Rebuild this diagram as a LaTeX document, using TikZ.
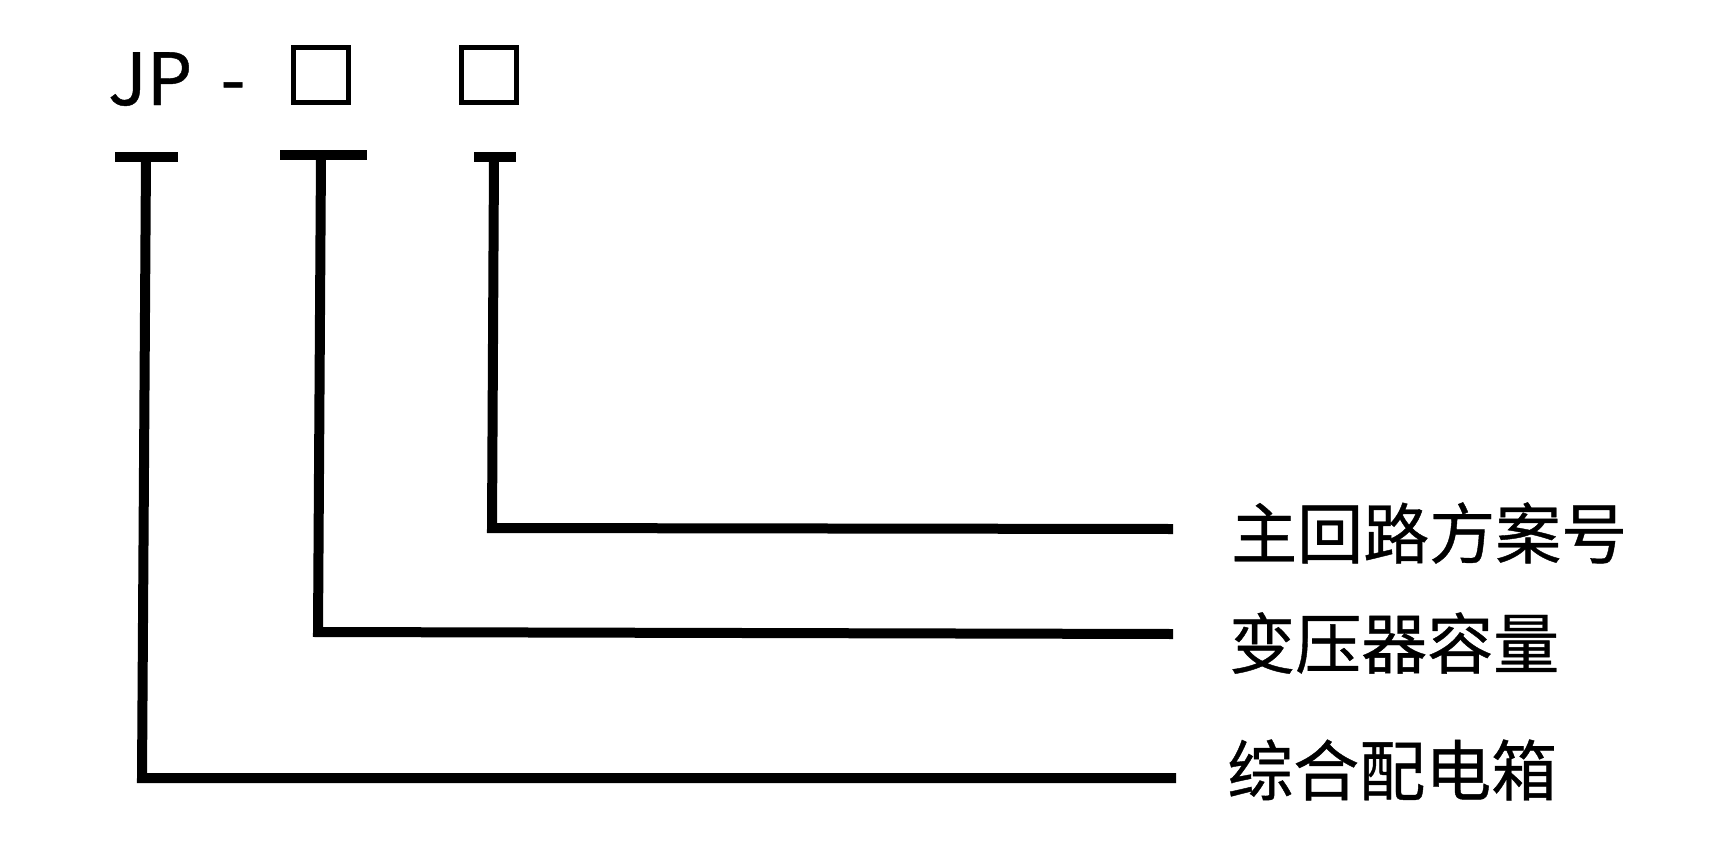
\documentclass[tikz,border=0pt]{standalone}
\usepackage{fontspec}
\newfontfamily\cjkfont[FakeBold=0.6]{Noto Sans CJK SC}
\begin{document}
\begin{tikzpicture}[x=1pt,y=-1pt,
  lab/.style={font=\cjkfont\fontsize{66}{66}\selectfont, inner sep=0pt, anchor=west},
  code/.style={font=\cjkfont\fontsize{72}{72}\selectfont, inner sep=0pt, anchor=base west},
  slot/.style={draw, line width=5pt, minimum width=55pt, minimum height=55pt, inner sep=0pt},
  lead/.style={line width=10pt, line join=miter},
  tbar/.style={line width=10pt}]
\useasboundingbox (0,0) rectangle (1728,851);
% code text
\node[code] (jp) at (108,105) {JP};
\node[code, anchor=base] (dash) at (233,105) {-};
\node[slot] (box1) at (321,75) {};
\node[slot] (box2) at (489,75) {};
% labels
\node[lab] (lab3) at (1231,533) {主回路方案号};
\node[lab] (lab2) at (1229,643) {变压器容量};
\node[lab] (lab1) at (1227,770) {综合配电箱};
% T tops and corners
\coordinate (t1) at (146,157);
\coordinate (t2) at (321,155);
\coordinate (t3) at (494,157);
\coordinate (c1) at (142,778);
\coordinate (c2) at (318,632);
\coordinate (c3) at (492,528);
\coordinate (e1) at (1176,778);
\coordinate (e2) at (1173,634);
\coordinate (e3) at (1173,529);
% T bars
\draw[tbar] ([xshift=-31pt]t1) -- ([xshift=32pt]t1);
\draw[tbar] ([xshift=-41pt]t2) -- ([xshift=46pt]t2);
\draw[tbar] ([xshift=-20pt]t3) -- ([xshift=22pt]t3);
% leaders
\draw[lead] (t1) -- (c1) -- (e1);
\draw[lead] (t2) -- (c2) -- (e2);
\draw[lead] (t3) -- (c3) -- (e3);
\end{tikzpicture}
\end{document}
